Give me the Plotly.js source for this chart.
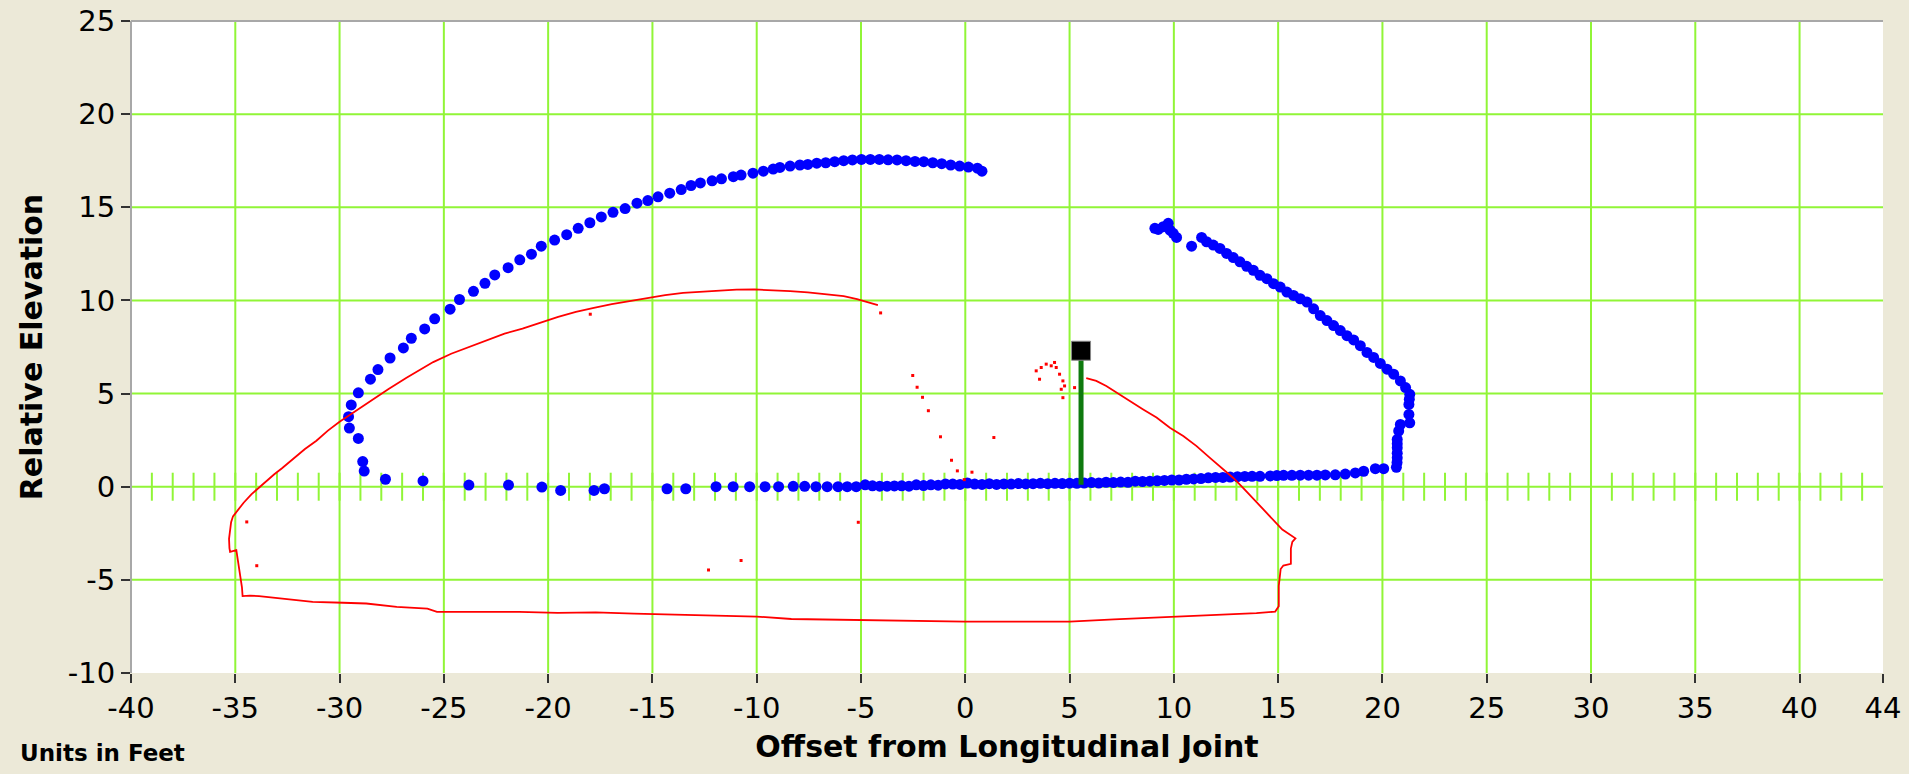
<!DOCTYPE html>
<html>
<head>
<meta charset="utf-8">
<script src="https://cdn.plot.ly/plotly-3.0.1.min.js"></script>
<style>html,body{margin:0;padding:0;background:#ECE9D8;}#chart{width:1909px;height:774px;}</style>
</head>
<body>
<div id="chart"></div>
<script>
// ---- Data (feet) ----
const blueArcX = [-28.82,-28.89,-29.10,-29.53,-29.57,-29.44,-29.10,-28.52,-28.16,-27.58,-26.94,-26.56,-25.92,-25.44,-24.70,-24.25,-23.58,-23.03,-22.56,-21.92,-21.36,-20.80,-20.33,-19.69,-19.11,-18.56,-18.00,-17.45,-16.89,-16.31,-15.74,-15.22,-14.73,-14.17,-13.62,-13.15,-12.70,-12.14,-11.69,-11.12,-10.75,-10.18,-9.68,-9.21,-8.89,-8.40,-7.93,-7.55,-7.12,-6.69,-6.26,-5.83,-5.41,-4.98,-4.55,-4.12,-3.70,-3.27,-2.84,-2.41,-1.99,-1.56,-1.13,-0.70,-0.27,0.15,0.58,0.80];
const blueArcY = [0.84,1.35,2.59,3.15,3.76,4.39,5.04,5.77,6.29,6.91,7.45,7.97,8.47,9.01,9.53,10.05,10.49,10.92,11.37,11.76,12.18,12.48,12.91,13.24,13.53,13.87,14.17,14.48,14.73,14.93,15.22,15.36,15.56,15.76,15.95,16.17,16.31,16.42,16.53,16.64,16.73,16.83,16.94,17.05,17.14,17.21,17.27,17.30,17.37,17.39,17.45,17.50,17.54,17.57,17.57,17.57,17.55,17.54,17.50,17.46,17.45,17.39,17.34,17.27,17.21,17.16,17.10,16.94];

const blueBaseX = [-27.8,-26.0,-23.8,-21.9,-20.3,-19.4,-17.8,-17.3,-14.3,-13.4,-11.95,-11.13,-10.34,-9.6,-8.95,-8.25,-7.7,-7.16,-6.62,-6.1,-5.66,-5.23,-4.8,-4.45,-4.1,-3.75,-3.4,-3.05,-2.7,-2.35,-2.0,-1.65,-1.3,-0.95,-0.6,-0.25,0.1,0.45,0.8,1.15,1.5,1.85,2.2,2.55,2.9,3.25,3.6,3.95,4.3,4.65,5.0,5.35,5.7,6.05,6.4,6.75,7.1,7.45,7.8,8.15,8.5,8.85,9.2,9.55,9.9,10.25,10.6,10.95,11.3,11.65,12.0,12.35,12.7,13.05,13.4,13.75,14.13,14.62,14.94,15.26,15.66,16.06,16.46,16.86,17.26,17.74,18.22,18.70,19.10,19.66,20.06];
const blueBaseY = [0.40,0.31,0.09,0.09,-0.02,-0.20,-0.20,-0.11,-0.11,-0.11,0.00,0.00,0.00,0.00,0.00,0.02,0.02,0.00,0.00,0.00,0.00,0.00,0.10,0.05,0.03,0.03,0.04,0.05,0.03,0.10,0.06,0.10,0.08,0.15,0.14,0.12,0.20,0.14,0.12,0.16,0.12,0.15,0.14,0.17,0.15,0.16,0.18,0.16,0.18,0.17,0.19,0.18,0.20,0.22,0.20,0.24,0.22,0.25,0.24,0.30,0.28,0.30,0.32,0.34,0.36,0.36,0.40,0.42,0.44,0.48,0.50,0.50,0.52,0.54,0.55,0.56,0.56,0.58,0.60,0.61,0.61,0.62,0.62,0.62,0.63,0.64,0.68,0.74,0.83,0.97,0.97];

const blueRightX = [20.67,20.70,20.71,20.71,20.71,20.71,20.71,20.78,20.86,21.31,21.27,21.27,21.29,21.31,21.11,20.86,20.54,20.22,19.90,19.58,19.26,18.94,18.62,18.30,17.98,17.66,17.34,17.02,16.70,16.38,16.06,15.74,15.42,15.10,14.78,14.46,14.13,13.81,13.49,13.17,12.85,12.53,12.21,11.89,11.57,11.33,10.85,10.13,9.97,9.81,9.73,9.49,9.25,9.09];
const blueRightY = [1.04,1.30,1.55,1.80,2.09,2.30,2.54,2.99,3.34,3.43,3.88,4.42,4.70,4.96,5.32,5.68,6.04,6.31,6.62,6.94,7.21,7.57,7.88,8.11,8.38,8.65,8.92,9.19,9.55,9.91,10.09,10.27,10.45,10.72,10.90,11.17,11.35,11.62,11.83,12.07,12.30,12.52,12.79,12.97,13.15,13.38,12.91,13.38,13.60,13.78,14.14,13.96,13.81,13.87];

const redPathX = [-4.19,-4.55,-5.19,-5.83,-6.69,-7.55,-8.40,-9.26,-10.11,-10.97,-11.82,-12.68,-13.53,-14.39,-15.24,-16.10,-16.95,-17.81,-18.67,-19.52,-20.38,-21.23,-22.09,-22.94,-23.80,-24.65,-25.51,-26.15,-26.79,-27.65,-28.29,-29.14,-30.00,-30.56,-31.11,-31.66,-32.21,-32.76,-33.13,-33.50,-33.86,-34.23,-34.60,-34.87,-35.11,-35.20,-35.25,-35.30,-35.28,-35.25,-34.95,-34.90,-34.85,-34.78,-34.72,-34.68,-34.65,-34.30,-33.86,-32.76,-31.29,-29.83,-28.72,-27.26,-25.79,-25.33,-23.22,-21.39,-19.55,-17.72,-15.88,-14.05,-12.21,-10.00,-8.34,-5.00,-2.54,0.00,2.83,5.00,7.13,10.00,12.50,13.96,14.86,15.03,15.03,15.03,15.12,15.25,15.61,15.61,15.68,15.83,15.20,14.62,13.97,13.33,12.85,12.37,11.73,11.09,10.45,9.81,9.17,8.53,7.88,7.24,6.76,6.28,5.80];
const redPathY = [9.75,9.87,10.07,10.23,10.34,10.43,10.50,10.56,10.59,10.58,10.52,10.47,10.41,10.29,10.14,9.98,9.80,9.60,9.39,9.12,8.79,8.49,8.22,7.86,7.50,7.14,6.69,6.28,5.85,5.25,4.77,4.15,3.49,3.01,2.47,2.02,1.48,0.99,0.67,0.31,-0.05,-0.41,-0.86,-1.23,-1.59,-1.90,-2.30,-2.80,-3.30,-3.50,-3.40,-3.80,-4.20,-4.60,-5.00,-5.40,-5.87,-5.85,-5.87,-6.00,-6.18,-6.23,-6.27,-6.45,-6.54,-6.72,-6.72,-6.72,-6.77,-6.75,-6.81,-6.85,-6.93,-6.97,-7.10,-7.15,-7.19,-7.24,-7.24,-7.24,-7.12,-6.97,-6.88,-6.79,-6.70,-6.42,-5.90,-5.33,-4.42,-4.23,-4.14,-3.32,-2.96,-2.77,-2.30,-1.60,-0.79,-0.07,0.47,0.92,1.55,2.18,2.72,3.17,3.71,4.15,4.60,5.05,5.41,5.68,5.83];

const redDotX = [3.40,3.64,3.88,4.12,4.28,4.36,4.52,4.68,4.76,4.60,3.56,4.68,5.24,-2.52,-2.31,-2.05,-1.77,-1.19,-0.66,-0.38,1.37,-4.06,-5.13,-17.98,-10.75,-12.31,0.32,-0.05,-34.45,-33.97];
const redDotY = [6.22,6.40,6.58,6.49,6.67,6.40,6.04,5.68,5.41,5.23,5.77,4.78,5.32,5.97,5.34,4.80,4.08,2.68,1.42,0.85,2.64,9.33,-1.91,9.26,-3.96,-4.47,0.78,0.38,-1.89,-4.24];

const mastX = 5.55;
const mastBase = 0.1;
const mastTop = 7.3;

const xTickVals = [-40,-35,-30,-25,-20,-15,-10,-5,0,5,10,15,20,25,30,35,40,44];
const xTickText = ['-40','-35','-30','-25','-20','-15','-10','-5','0','5','10','15','20','25','30','35','40','44'];
const yTickVals = [-10,-5,0,5,10,15,20,25];
const yTickText = ['-10','-5','0','5','10','15','20','25'];
const xGridVals = [-35,-30,-25,-20,-15,-10,-5,0,5,10,15,20,25,30,35,40];
const yGridVals = [-5,0,5,10,15,20];

// foot marks along the zero line (axis decoration)
const footTicks = [];
for (let v = -39; v <= 43; v++) footTicks.push(v);

const GREEN = 'rgb(145,245,55)';
const traces = [
  {x: footTicks, y: footTicks.map(() => 0), type: 'scatter', mode: 'markers',
   marker: {symbol: 'line-ns', size: 20, line: {width: 2, color: GREEN}}, hoverinfo: 'skip', showlegend: false},
  {x: blueArcX.concat(blueBaseX, blueRightX), y: blueArcY.concat(blueBaseY, blueRightY),
   type: 'scatter', mode: 'markers', name: 'Scan',
   marker: {symbol: 'circle', size: 11, color: '#0000FF', line: {width: 0}}, showlegend: false},
  {x: redPathX, y: redPathY, type: 'scatter', mode: 'lines', name: 'Profile',
   line: {color: '#FF0000', width: 1.8}, showlegend: false},
  {x: redDotX, y: redDotY, type: 'scatter', mode: 'markers', name: 'Profile points',
   marker: {symbol: 'square', size: 3, color: '#FF0000'}, showlegend: false},
  {x: [mastX, mastX], y: [mastBase, mastTop], type: 'scatter', mode: 'lines', name: 'Mast',
   line: {color: '#0E7A0E', width: 5}, showlegend: false},
  {x: [mastX], y: [mastTop], type: 'scatter', mode: 'markers', name: 'Sensor',
   marker: {symbol: 'square', size: 19, color: '#000000', line: {width: 1, color: '#888888'}}, showlegend: false}
];

const tickFont = {family: 'DejaVu Sans, sans-serif', size: 29, color: '#000000'};
const titleFont = {family: 'DejaVu Sans, sans-serif', size: 30, color: '#000000', weight: 'bold'};

const shapes = [];
xGridVals.forEach(v => shapes.push({type: 'line', layer: 'below', xref: 'x', yref: 'paper', x0: v, x1: v, y0: 0, y1: 1, line: {color: GREEN, width: 2}}));
yGridVals.forEach(v => shapes.push({type: 'line', layer: 'below', xref: 'paper', yref: 'y', x0: 0, x1: 1, y0: v, y1: v, line: {color: GREEN, width: 2}}));
shapes.push({type: 'line', layer: 'above', xref: 'paper', yref: 'paper', x0: 0, x1: 1, y0: 1, y1: 1, line: {color: '#A8A8A8', width: 2}});
shapes.push({type: 'line', layer: 'above', xref: 'paper', yref: 'paper', x0: 0, x1: 0, y0: 0, y1: 1, line: {color: '#A8A8A8', width: 2}});

const layout = {
  width: 1909, height: 774,
  paper_bgcolor: '#ECE9D8', plot_bgcolor: '#FFFFFF',
  margin: {l: 131, r: 26, t: 21, b: 101},
  showlegend: false,
  xaxis: {
    range: [-40, 44], tickmode: 'array', tickvals: xTickVals, ticktext: xTickText,
    showgrid: false, zeroline: false, showline: false,
    ticks: 'outside', ticklen: 9, tickwidth: 2, tickcolor: '#333333',
    tickfont: tickFont,
    title: {text: 'Offset from Longitudinal Joint', font: titleFont, standoff: 12}
  },
  yaxis: {
    range: [-10, 25], tickmode: 'array', tickvals: yTickVals, ticktext: yTickText,
    showgrid: false, zeroline: false, showline: false,
    ticks: 'outside', ticklen: 9, tickwidth: 2, tickcolor: '#333333',
    tickfont: tickFont,
    title: {text: 'Relative Elevation', font: titleFont, standoff: 16}
  },
  shapes: shapes,
  annotations: [{
    text: 'Units in Feet', xref: 'paper', yref: 'paper',
    x: -0.0645, y: -0.1227, xanchor: 'left', yanchor: 'middle', showarrow: false,
    font: {family: 'DejaVu Sans, sans-serif', size: 23, color: '#000000', weight: 'bold'}
  }]
};

Plotly.newPlot('chart', traces, layout, {displayModeBar: false, staticPlot: true});
</script>
</body>
</html>
